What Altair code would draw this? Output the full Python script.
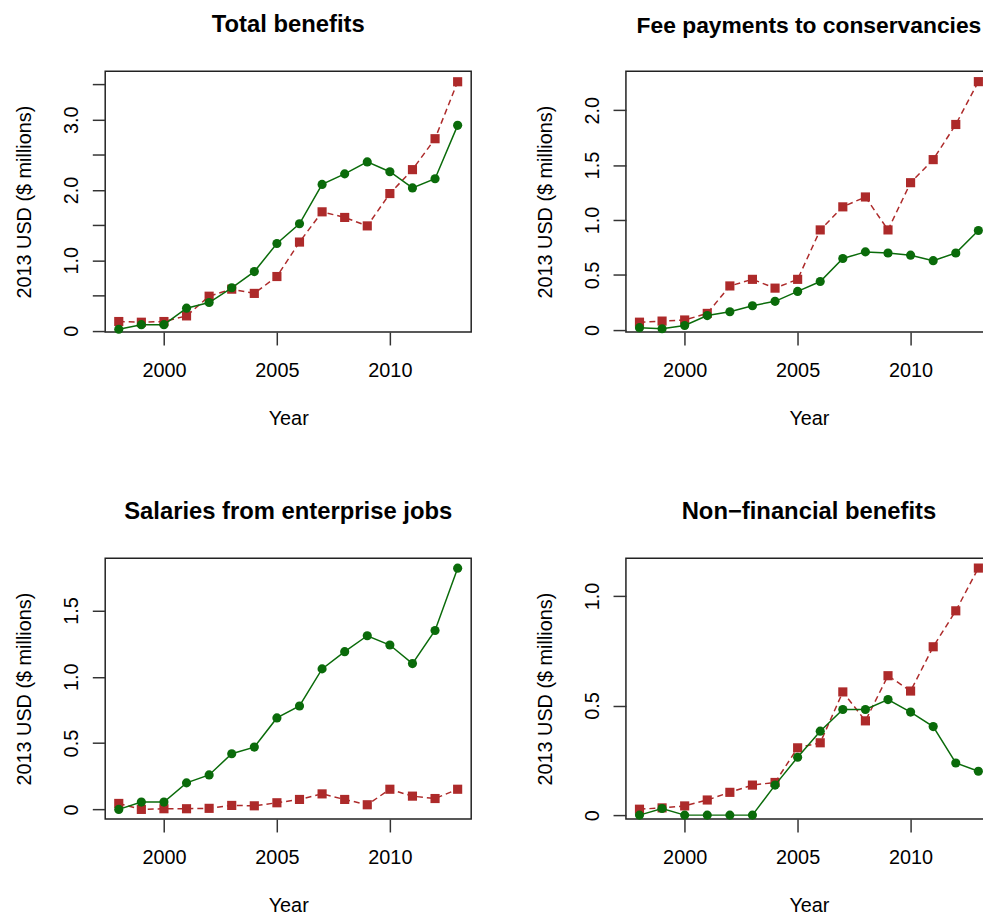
import altair as alt
import pandas as pd

years = list(range(1998, 2014))

total_green = [0.02, 0.085, 0.085, 0.32, 0.40, 0.61, 0.84, 1.24, 1.52, 2.08, 2.23, 2.40, 2.26, 2.03, 2.16, 2.92]
total_red = [0.13, 0.12, 0.13, 0.21, 0.49, 0.59, 0.53, 0.77, 1.26, 1.69, 1.61, 1.49, 1.95, 2.29, 2.73, 3.54]

fees_green = [0.02, 0.01, 0.04, 0.13, 0.165, 0.22, 0.26, 0.35, 0.44, 0.65, 0.71, 0.70, 0.68, 0.63, 0.70, 0.905]
fees_red = [0.07, 0.08, 0.09, 0.15, 0.40, 0.46, 0.38, 0.46, 0.91, 1.12, 1.21, 0.91, 1.34, 1.55, 1.87, 2.26]

sal_green = [0.0, 0.055, 0.055, 0.20, 0.26, 0.42, 0.47, 0.69, 0.78, 1.06, 1.19, 1.31, 1.24, 1.10, 1.35, 1.82]
sal_red = [0.045, 0.0, 0.005, 0.005, 0.008, 0.03, 0.027, 0.05, 0.075, 0.117, 0.075, 0.035, 0.152, 0.10, 0.082, 0.152]

nonfin_green = [0.0, 0.03, 0.0, 0.0, 0.0, 0.0, 0.137, 0.264, 0.383, 0.482, 0.482, 0.527, 0.47, 0.404, 0.238, 0.20]
nonfin_red = [0.027, 0.033, 0.042, 0.069, 0.104, 0.137, 0.149, 0.307, 0.33, 0.562, 0.43, 0.636, 0.566, 0.768, 0.932, 1.127]

titles = ["Total benefits", "Fee payments to conservancies",
          "Salaries from enterprise jobs", "Non\u2212financial benefits"]
title_sizes = [24, 23, 24, 24]
y_domains = [[-0.02, 3.69], [-0.02, 2.355], [-0.073, 1.895], [-0.018, 1.172]]
y_ticks = [[0, 0.5, 1, 1.5, 2, 2.5, 3, 3.5], [0, 0.5, 1, 1.5, 2],
           [0, 0.5, 1, 1.5], [0, 0.5, 1]]
label_whole_only = [True, False, False, False]
x_ticks = [2000, 2005, 2010]
x_domain = [1997.4, 2013.6]

GREEN = "#0a6b0a"
RED = "#ad2a2a"
FRAME = "#222222"
FONT = "Liberation Sans"


def panel(idx, green, red):
    df = pd.DataFrame({
        "year": years + years,
        "value": red + green,
        "series": ["red"] * len(years) + ["green"] * len(years),
    })
    if label_whole_only[idx]:
        lexpr = "datum.value % 1 == 0 ? (datum.value == 0 ? '0' : format(datum.value, '.1f')) : ''"
    else:
        lexpr = "datum.value == 0 ? '0' : format(datum.value, '.1f')"
    base = alt.Chart(df).encode(
        x=alt.X("year:Q",
                scale=alt.Scale(domain=x_domain, nice=False, zero=False),
                axis=alt.Axis(values=x_ticks, format="d", title="Year",
                              labelBaseline="alphabetic", labelPadding=32,
                              titlePadding=28)),
        y=alt.Y("value:Q",
                scale=alt.Scale(domain=y_domains[idx], nice=False, zero=False),
                axis=alt.Axis(values=y_ticks[idx], labelExpr=lexpr,
                              title="2013 USD ($ millions)",
                              labelAngle=270, labelAlign="center",
                              labelBaseline="alphabetic", labelPadding=15,
                              titlePadding=27)),
    )
    red_line = base.transform_filter("datum.series == 'red'").mark_line(
        color=RED, strokeDash=[6, 4], strokeWidth=1.5)
    red_pts = base.transform_filter("datum.series == 'red'").mark_point(
        shape="square", filled=True, size=85, color=RED, opacity=1)
    green_line = base.transform_filter("datum.series == 'green'").mark_line(
        color=GREEN, strokeWidth=1.5)
    green_pts = base.transform_filter("datum.series == 'green'").mark_circle(
        size=85, color=GREEN, opacity=1)
    return alt.layer(red_line, red_pts, green_line, green_pts).properties(
        width=369, height=263,
        title=alt.TitleParams(titles[idx], font=FONT, fontSize=title_sizes[idx],
                              fontWeight="bold", anchor="middle", frame="group",
                              baseline="alphabetic", offset=16, color="black"),
    )


panels = [
    panel(0, total_green, total_red),
    panel(1, fees_green, fees_red),
    panel(2, sal_green, sal_red),
    panel(3, nonfin_green, nonfin_red),
]

# negative right/bottom padding crops the right-hand panels at the page edge, as in the reference
chart = alt.concat(*panels, columns=2, spacing={"row": 70, "column": 63}).properties(
    padding={"left": 6, "top": 0, "right": -10, "bottom": -4}
).configure_view(
    stroke=FRAME, strokeWidth=1.5
).configure_axis(
    domain=False, grid=False, ticks=True, tickColor="#333333", tickSize=13, tickWidth=1.5,
    labelFont=FONT, labelFontSize=20, labelColor="black", labelOverlap=False, labelFlush=False,
    titleFont=FONT, titleFontSize=20, titleFontWeight="normal", titleColor="black",
)

chart.save("out.html", embed_options={"renderer": "svg", "actions": False})
